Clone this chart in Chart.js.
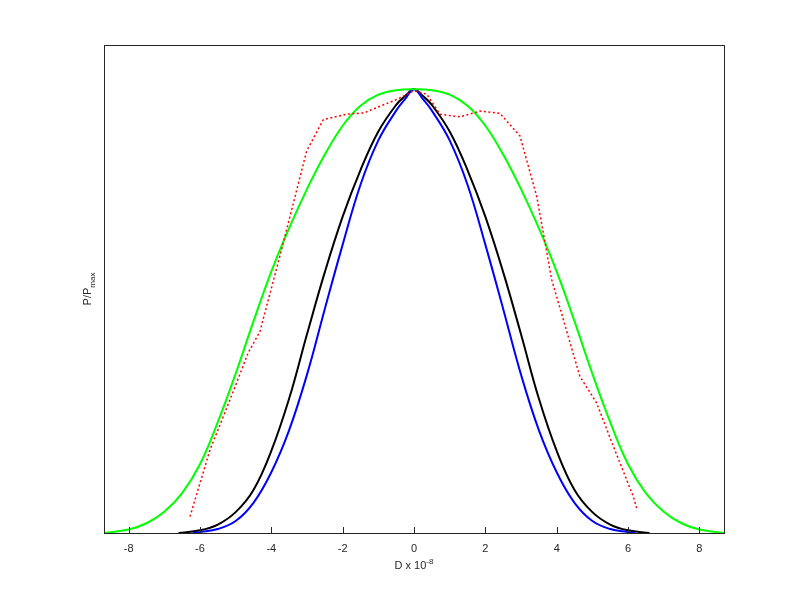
<!DOCTYPE html>
<html>
<head>
<meta charset="utf-8">
<script src="https://cdn.jsdelivr.net/npm/chart.js@4.4.1/dist/chart.umd.min.js"></script>
<style>
  body { margin: 0; background: #fff; }
  #wrap { width: 800px; height: 600px; }
</style>
</head>
<body>
<div id="wrap"><canvas id="chart"></canvas></div>
<script>
// values
const xTicks = [-8, -6, -4, -2, 0, 2, 4, 6, 8];

const blueX = [-6.2, -6, -5.5, -5, -4.5, -4, -3.5, -3, -2.5, -2, -1.5, -1, -0.5, -0.25, 0, 0.25, 0.5, 1, 1.5, 2, 2.5, 3, 3.5, 4, 4.5, 5, 5.5, 6, 6.2];
const blueY = [0, 0.002, 0.009, 0.027, 0.068, 0.137, 0.232, 0.357, 0.505, 0.65, 0.785, 0.885, 0.952, 0.978, 1, 0.978, 0.952, 0.885, 0.785, 0.65, 0.505, 0.357, 0.232, 0.137, 0.068, 0.027, 0.009, 0.002, 0];

const blackX = [-6.6, -6, -5.5, -5, -4.5, -4, -3.5, -3, -2.5, -2, -1.5, -1, -0.5, -0.25, 0, 0.25, 0.5, 1, 1.5, 2, 2.5, 3, 3.5, 4, 4.5, 5, 5.5, 6, 6.6];
const blackY = [0, 0.006, 0.019, 0.047, 0.097, 0.185, 0.303, 0.448, 0.588, 0.713, 0.818, 0.905, 0.965, 0.985, 1, 0.985, 0.965, 0.905, 0.818, 0.713, 0.588, 0.448, 0.303, 0.185, 0.097, 0.047, 0.019, 0.006, 0];

const greenX = [-8.7, -8, -7.5, -7, -6.5, -6, -5.5, -5, -4.5, -4, -3.5, -3, -2.5, -2, -1.5, -1, -0.5, 0, 0.5, 1, 1.5, 2, 2.5, 3, 3.5, 4, 4.5, 5, 5.5, 6, 6.5, 7, 7.5, 8, 8.7];
const greenY = [0, 0.008, 0.022, 0.048, 0.09, 0.155, 0.25, 0.359, 0.477, 0.589, 0.687, 0.775, 0.853, 0.918, 0.963, 0.988, 0.998, 1, 0.998, 0.988, 0.963, 0.918, 0.853, 0.775, 0.687, 0.589, 0.477, 0.359, 0.25, 0.155, 0.09, 0.048, 0.022, 0.008, 0];

const redX = [-6.28, -5.72, -5.16, -4.65, -4.32, -3.76, -3.38, -3.01, -2.54, -1.89, -1.40, -0.95, -0.49, 0, 0.36, 0.73, 1.29, 1.85, 2.41, 2.97, 3.44, 3.86, 4.65, 5.12, 5.59, 6.15, 6.24];
const redY = [0.037, 0.187, 0.30, 0.406, 0.454, 0.624, 0.744, 0.861, 0.932, 0.944, 0.947, 0.962, 0.977, 0.997, 0.989, 0.944, 0.938, 0.951, 0.946, 0.895, 0.759, 0.571, 0.353, 0.293, 0.195, 0.082, 0.056];

const pts = (xs, ys) => xs.map((x, i) => ({ x, y: ys[i] }));

const frameColor = '#262626';
const font = '"Liberation Sans", Arial, sans-serif';

// frame, inward ticks and axis titles with sub/superscripts
const decor = {
    id: 'decor',
    afterDraw(chart) {
        const { ctx, chartArea: a, scales: { x } } = chart;
        ctx.save();
        ctx.strokeStyle = frameColor;
        ctx.lineWidth = 1;
        ctx.strokeRect(Math.round(a.left) + 0.5, Math.round(a.top) + 0.5,
            Math.round(a.right - a.left), Math.round(a.bottom - a.top));
        ctx.beginPath();
        xTicks.forEach(v => {
            const px = Math.round(x.getPixelForValue(v)) + 0.5;
            ctx.moveTo(px, a.bottom);
            ctx.lineTo(px, a.bottom - 6);
        });
        ctx.stroke();

        ctx.fillStyle = frameColor;
        ctx.textBaseline = 'alphabetic';
        // x title: D x 10^-8
        ctx.font = '11px ' + font;
        const main = 'D x 10';
        const wMain = ctx.measureText(main).width;
        ctx.font = '8px ' + font;
        const sup = '-8';
        const wSup = ctx.measureText(sup).width;
        const cx = (a.left + a.right) / 2;
        let sx = cx - (wMain + wSup) / 2;
        ctx.font = '11px ' + font;
        ctx.fillText(main, sx, 569);
        ctx.font = '8px ' + font;
        ctx.fillText(sup, sx + wMain, 564);

        // y title: P/P_max
        ctx.translate(91, (a.top + a.bottom) / 2);
        ctx.rotate(-Math.PI / 2);
        ctx.font = '11px ' + font;
        const ym = 'P/P';
        const wy = ctx.measureText(ym).width;
        ctx.font = '8px ' + font;
        const sub = 'max';
        const wsub = ctx.measureText(sub).width;
        sx = -(wy + wsub) / 2;
        ctx.font = '11px ' + font;
        ctx.fillText(ym, sx, 0);
        ctx.font = '8px ' + font;
        ctx.fillText(sub, sx + wy, 4);
        ctx.restore();
    }
};

const line = (data, color, extra) => Object.assign({
    data,
    borderColor: color,
    backgroundColor: color,
    borderWidth: 2,
    pointRadius: 0,
    fill: false,
    tension: 0.4
}, extra || {});

new Chart(document.getElementById('chart'), {
    type: 'line',
    data: {
        datasets: [
            line(pts(redX, redY), '#ff0000', { borderWidth: 1.5, borderDash: [2, 2.5], tension: 0 }),
            line(pts(greenX, greenY), '#00ff00'),
            line(pts(blueX, blueY), '#0000ff'),
            line(pts(blackX, blackY), '#000000')
        ]
    },
    options: {
        responsive: true,
        maintainAspectRatio: false,
        animation: false,
        events: [],
        layout: { padding: { left: 104, right: 76, top: 45, bottom: 0 } },
        plugins: { legend: { display: false }, tooltip: { enabled: false } },
        scales: {
            x: {
                type: 'linear',
                min: -8.69,
                max: 8.69,
                afterBuildTicks: axis => { axis.ticks = xTicks.map(v => ({ value: v })); },
                afterFit: axis => { axis.height = 67; },
                grid: { display: false, drawTicks: false },
                border: { display: false },
                ticks: {
                    padding: 9,
                    color: frameColor,
                    font: { family: font, size: 11 },
                    maxRotation: 0
                }
            },
            y: {
                display: false,
                min: 0,
                max: 1.1
            }
        }
    },
    plugins: [decor]
});
</script>
</body>
</html>
